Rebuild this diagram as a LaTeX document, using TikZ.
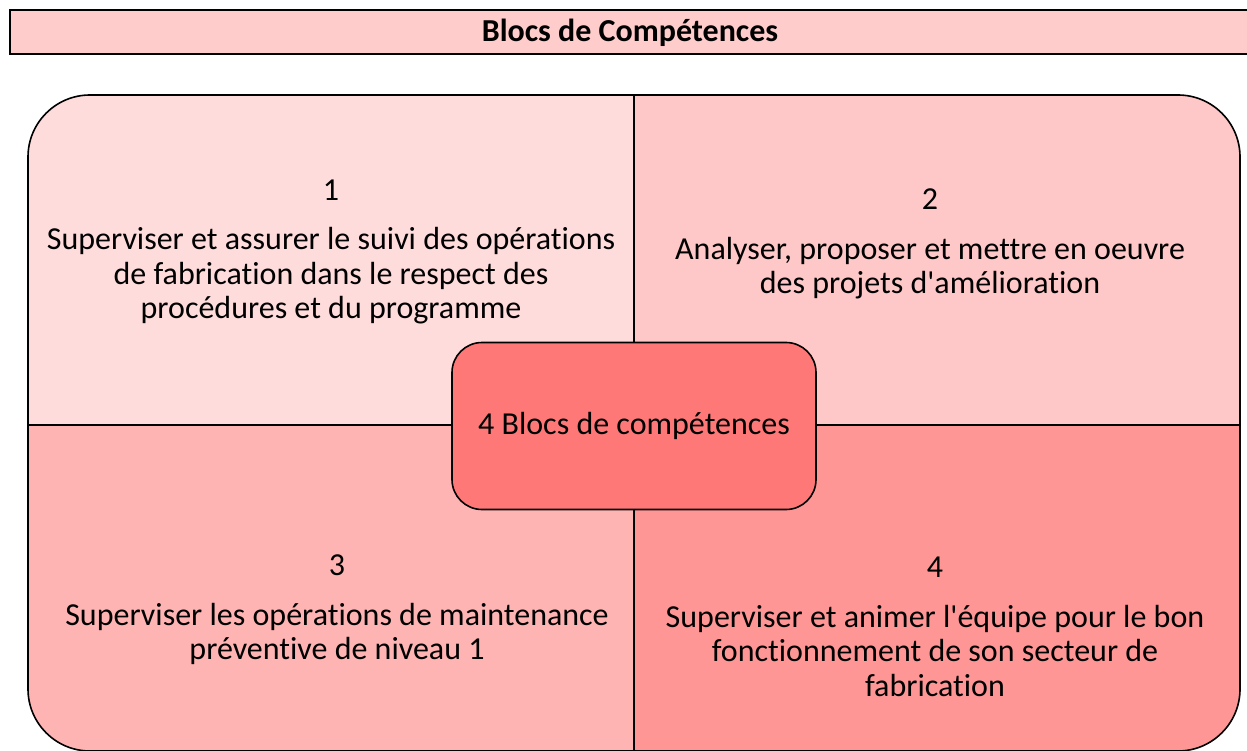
\documentclass[tikz,border=0pt]{standalone}
\usepackage{fontspec}
\setmainfont{Carlito}[Ligatures={NoCommon,NoContextual}]
\definecolor{titrefond}{RGB}{255,204,204}
\definecolor{blocun}{RGB}{255,220,220}
\definecolor{blocdeux}{RGB}{255,200,200}
\definecolor{bloctrois}{RGB}{255,180,180}
\definecolor{blocquatre}{RGB}{255,150,150}
\definecolor{centrefond}{RGB}{255,120,120}
\newcommand{\apos}{\textquotesingle}
\begin{document}
\begin{tikzpicture}[x=1pt,y=-1pt,
  bloctexte/.style={align=center,font=\fontsize{32}{34.5}\selectfont},
  trait/.style={line width=1.6pt}]
  \useasboundingbox (0,0) rectangle (1247,751);
  % bandeau du titre
  \draw[trait,fill=titrefond] (10,10) rectangle (1252,54);
  \node[font=\fontsize{32}{34}\selectfont\bfseries] (titre) at (630,33) {Blocs de Compétences};
  % les quatre quarts
  \coordinate (nw) at (28,95);
  \coordinate (se) at (1240,751);
  \coordinate (milhaut) at (634,95);
  \coordinate (milbas) at (634,751);
  \coordinate (milgauche) at (28,425);
  \coordinate (mildroite) at (1240,425);
  \begin{scope}
    \clip[rounded corners=62pt] (nw) rectangle (se);
    \fill[blocun] (nw) rectangle (634,425);
    \fill[blocdeux] (milhaut) rectangle (mildroite);
    \fill[bloctrois] (milgauche) rectangle (milbas);
    \fill[blocquatre] (634,425) rectangle (se);
  \end{scope}
  \draw[trait] (milhaut) -- (milbas);
  \draw[trait] (milgauche) -- (mildroite);
  \draw[trait,rounded corners=62pt] (nw) rectangle (se);
  % textes des blocs
  \node[bloctexte] (bloc1) at (331,252) {1\\[15pt]Superviser et assurer le suivi des opérations\\de fabrication dans le respect des\\procédures et du programme};
  \node[bloctexte] (bloc2) at (930,244) {2\\[15pt]Analyser, proposer et mettre en oeuvre\\des projets d\apos amélioration};
  \node[bloctexte] (bloc3) at (337,610) {3\\[15pt]Superviser les opérations de maintenance\\préventive de niveau 1};
  \node[bloctexte] (bloc4) at (935,627) {4\\[15pt]Superviser et animer l\apos équipe pour le bon\\fonctionnement de son secteur de\\fabrication};
  % bloc central
  \node[trait,draw,fill=centrefond,rounded corners=30pt,minimum width=364pt,minimum height=167pt,bloctexte] (centre) at (634,426) {4 Blocs de compétences};
\end{tikzpicture}
\end{document}
